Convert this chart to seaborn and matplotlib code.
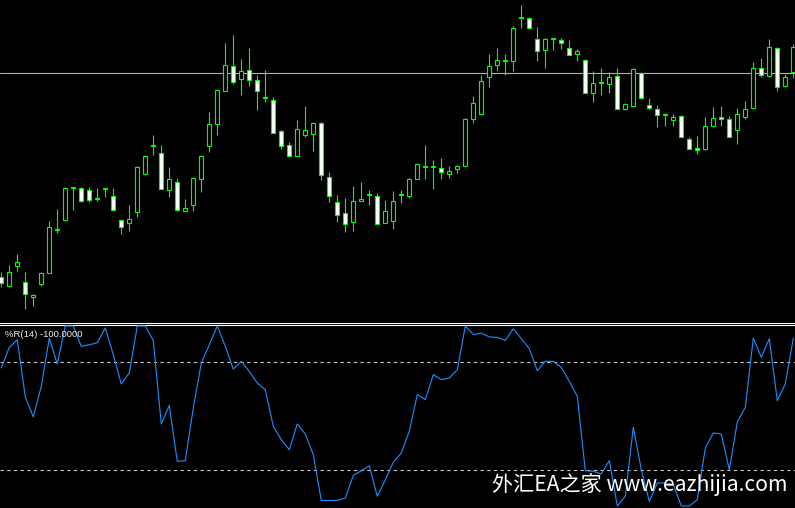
import numpy as np
import pandas as pd
import matplotlib
matplotlib.use("Agg")
import matplotlib.pyplot as plt
import seaborn as sns

# candle prices (chart units), one per bar
opens = [43, 34, 54.5, 38, 23.5, 36.5, 47.5, 90, 100, 132.5,
         132.5, 130.5, 121.5, 131.5, 124.5, 100.5, 97.5, 108.5, 146.5, 174,
         167.5, 130.5, 138.5, 109.5, 115.5, 141.5, 174.5, 196.5, 229.5, 254.5,
         241.5, 250.5, 240.5, 222, 220.5, 189.5, 175.5, 164.5, 185.5, 186.5,
         197.5, 143.5, 118.5, 107.5, 98.5, 119.5, 125.5, 124.5, 97.5, 99.5,
         125, 124.5, 141.5, 153.5, 153.5, 152.5, 146.5, 151.5, 154.5, 201.5,
         206.5, 243.5, 255.5, 259.5, 259.5, 302.5, 302.5, 281.5, 270.5, 281.5,
         280.5, 272.5, 266.5, 260.5, 227.5, 237, 236.5, 244.5, 211.5, 214,
         247.5, 215.5, 211.5, 205, 200.5, 204.5, 181.5, 172.5, 171.5, 194.5,
         203.5, 201.5, 190.5, 203.5, 212.5, 252.5, 244.5, 272.5, 234.5, 248.5]

highs = [48, 55, 66, 48, 26, 48, 99, 111, 133, 132.5,
         133, 133, 132, 131.5, 132, 101, 115, 154, 165, 185,
         175, 153, 142, 121, 143, 165, 208, 231, 277, 285,
         261, 272, 245, 250, 223, 190.5, 178, 200, 214, 198,
         198, 148, 125, 122, 134, 138, 130, 127, 120, 129,
         130, 142, 157.5, 175, 160, 162, 154, 155, 202, 224,
         245, 266, 272, 266, 294, 315, 303, 293, 282, 281.5,
         282.5, 280.5, 271.5, 261, 249, 252, 248, 252, 217, 252.5,
         248, 222, 215, 207, 206, 205, 183.5, 184, 203, 213,
         214, 204, 212, 219, 258, 262, 281, 273, 246, 276]

lows = [33, 33, 49, 11, 14, 34, 47, 87.5, 99, 110,
        118, 118, 119.5, 123, 110.5, 86, 89, 103, 146, 165,
        131, 123, 109, 109, 109.5, 128, 168, 185, 229.5, 236,
        225, 234, 210, 218.5, 187.5, 171.5, 164.5, 164.5, 183.5, 169.5,
        140, 118.5, 98.5, 88.5, 89.5, 119.5, 115.5, 96.5, 97.5, 91.5,
        117.5, 122.5, 141.5, 141, 131.5, 141, 142.5, 147, 154, 197,
        205, 233, 249, 245, 249, 292, 292, 259.5, 252.5, 270.5,
        271.5, 265.5, 259.5, 227.5, 218.5, 225, 227, 211.5, 210, 213,
        222.5, 211, 193, 194, 194, 183.5, 171.5, 166, 170, 194,
        194, 183.5, 176, 201.5, 211.5, 243.5, 243.5, 229.5, 233, 242.5]

closes = [37, 48, 58.5, 26, 25.5, 47.5, 93.5, 90, 132.5, 132.5,
          119.5, 120.5, 121.5, 131.5, 110.5, 93.5, 101, 153.5, 164.5, 174,
          131.5, 141.5, 110, 112.5, 142.5, 164.5, 196.5, 230.5, 255.5, 238.5,
          249.5, 240.5, 229.5, 222, 187.5, 174.5, 164.5, 191.5, 190.5, 197.5,
          145.5, 124.5, 105.5, 96.5, 119.5, 121.5, 125.5, 96.5, 109.5, 119.5,
          125, 141.5, 156.5, 153.5, 153.5, 148.5, 149.5, 154.5, 201.5, 217.5,
          239.5, 254.5, 260.5, 259.5, 292.5, 302.5, 292.5, 269.5, 281.5, 281.5,
          277.5, 265.5, 269.5, 227.5, 237.5, 237, 243.5, 211.5, 216.5, 251.5,
          222.5, 212.5, 205.5, 205, 203.5, 183.5, 171.5, 170.5, 194.5, 202.5,
          201.5, 183.5, 206.5, 211.5, 252.5, 245.5, 273.5, 233.5, 243.5, 273.5]

# Williams %R(14)
wpr = [-23.3, -11.9, -7.6, -39.4, -50.5, -33.5, -6.7, -21.1, 0, 0,
       -11.3, -10.4, -9.3, -1.1, -15.9, -32.2, -26.1, 0, 0, -8.1,
       -54.4, -44.1, -75.2, -74.8, -45.6, -20.6, -10.4, 0, -11.3, -23.9,
       -19.6, -25.2, -31.7, -35.4, -55.7, -63.1, -68.7, -54.4, -60, -71.5,
       -96.9, -96.9, -96.9, -95.6, -83, -80.4, -77.6, -94.6, -85.4, -75.7,
       -70.6, -58.5, -38.1, -40.9, -27, -29.8, -28.9, -24.3, 0, -4.8,
       -3.9, -6.1, -6.3, -8, -1.5, -7, -12.6, -24.8, -19.6, -19.6,
       -23, -30.7, -39.1, -80.4, -80.7, -82.2, -74.8, -100, -94.6, -56.3,
       -79.8, -97.4, -87.2, -87.2, -88.1, -100, -100, -96.5, -67.8, -59.4,
       -60, -79.8, -53.3, -45.2, -6.7, -17.4, -7, -41.5, -32.2, -6.7]

price_line = 246.7
wpr_levels = [-20, -80]
wpr_label = "%R(14) -100.0000"
watermark = "外汇EA之家 www.eazhijia.com"

GREEN = "#00ff00"
BLUE = "#1e90ff"

sns.set_theme(style="dark", rc={"axes.facecolor": "black", "figure.facecolor": "black"})

df = pd.DataFrame({"bar": np.arange(len(opens)), "open": opens, "high": highs,
                   "low": lows, "close": closes, "wpr": wpr})
df["bull"] = df["close"] >= df["open"]
df["body_lo"] = df[["open", "close"]].min(axis=1)
df["body_h"] = (df["close"] - df["open"]).abs().clip(lower=0.6)

fig = plt.figure(figsize=(7.95, 5.08), dpi=100)
ax = fig.add_axes([0, 1 - 322.5 / 508, 1, 322.5 / 508])
ax2 = fig.add_axes([0, 0, 1, 183.5 / 508])

# main chart: candlesticks
ax.vlines(df["bar"], df["low"], df["high"], color=GREEN, linewidth=0.8, zorder=2)
ax.bar(df["bar"], df["body_h"], bottom=df["body_lo"], width=0.5,
       color=np.where(df["bull"], "black", "white"), edgecolor=GREEN,
       linewidth=0.8, zorder=3)
ax.axhline(price_line, color="#b4b4b4", linewidth=0.8, zorder=1)
ax.set_xlim(-0.16, 99.21)
ax.set_ylim(-2.5, 320)

# indicator window
sns.lineplot(data=df, x="bar", y="wpr", ax=ax2, color=BLUE, linewidth=0.8, zorder=3)
for lv in wpr_levels:
    ax2.axhline(lv, color="#c8c8c8", linewidth=0.8, linestyle=(0, (3, 3)), zorder=1)
ax2.set_xlim(-0.16, 99.21)
ax2.set_ylim(-101.1, 0.83)

for a in (ax, ax2):
    a.set_xticks([])
    a.set_yticks([])
    a.set_xlabel("")
    a.set_ylabel("")
    a.grid(False)
    for s in a.spines.values():
        s.set_visible(False)
ax.spines["bottom"].set_visible(True)
ax.spines["bottom"].set_color("white")
ax.spines["bottom"].set_linewidth(0.8)
ax2.spines["top"].set_visible(True)
ax2.spines["top"].set_color("white")
ax2.spines["top"].set_linewidth(0.8)

fig.text(5 / 795, 1 - 334.5 / 508, wpr_label, color="#f0f0e0", fontsize=6.8,
         family=["Liberation Sans", "DejaVu Sans"], va="center", ha="left")
fig.text(787 / 795, 1 - 491 / 508, watermark, color="white", fontsize=15.2,
         family=["Noto Sans CJK SC", "DejaVu Sans"], va="baseline", ha="right")

fig.savefig("out.png", dpi=100, facecolor="black")
